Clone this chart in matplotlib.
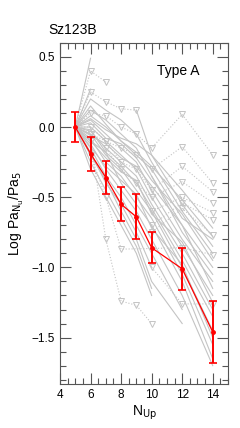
import numpy as np
import matplotlib.pyplot as plt
from matplotlib.ticker import MultipleLocator

plt.rcParams['font.family'] = ['Liberation Sans', 'DejaVu Sans']

# Upper levels
n_up = [5, 6, 7, 8, 9, 10, 12, 14]
nan = np.nan

# individual objects, detections (solid lines)
solid = [
    [0, 0.49, nan, 0.02, nan, -0.35, -0.75, -1.05],
    [0, 0.27, nan, nan, 0.12, -0.20, -0.55, -0.85],
    [0, 0.20, 0.12, 0.05, -0.05, -0.25, -0.60, -0.90],
    [0, 0.12, 0.05, -0.05, -0.15, -0.35, -0.70, -1.00],
    [0, 0.08, 0.00, -0.10, -0.20, -0.30, -0.65, -0.80],
    [0, 0.05, -0.05, -0.15, -0.25, -0.45, -0.80, -1.10],
    [0, 0.00, -0.10, -0.20, -0.30, -0.50, -0.85, -1.20],
    [0, -0.03, -0.15, -0.25, -0.35, -0.55, -0.90, -1.30],
    [0, -0.05, -0.20, -0.30, -0.45, -0.60, -1.00, -1.45],
    [0, -0.08, -0.25, -0.35, -0.50, -0.65, -1.05, -1.55],
    [0, -0.10, -0.18, -0.40, -0.55, -0.70, -1.10, -1.65],
    [0, -0.12, -0.30, -0.45, -0.60, -0.80, -1.20, -1.70],
    [0, -0.15, -0.35, -0.50, -0.70, -0.90, -1.30, nan],
    [0, -0.18, -0.40, -0.55, -0.75, -1.00, nan, nan],
    [0, -0.20, -0.38, -0.60, -0.80, -1.10, -1.40, nan],
    [0, -0.25, -0.45, -0.65, -0.85, -1.15, nan, nan],
    [0, -0.30, -0.50, -0.70, -0.90, -1.20, nan, nan],
    [0, 0.03, -0.08, -0.12, -0.22, -0.38, -0.62, -0.95],
    [0, -0.06, -0.12, -0.22, -0.28, -0.42, -0.70, -1.15],
    [0, 0.15, 0.02, -0.10, -0.18, -0.28, -0.52, -0.78],
    [0, -0.02, -0.18, -0.28, -0.40, -0.58, -0.95, -1.35],
    [0, 0.06, -0.02, -0.08, -0.12, -0.20, -0.45, -0.72],
    [0, -0.10, -0.22, -0.32, -0.38, -0.62, -0.82, -1.25],
    [0, -0.14, -0.28, -0.38, -0.48, -0.72, -0.98, -1.50],
]

# objects with upper limits (dotted lines, triangles)
limits = [
    [0, 0.40, 0.32, nan, nan, nan, nan, nan],
    [0, 0.25, 0.18, 0.13, 0.12, nan, nan, nan],
    [0, 0.10, 0.08, 0.00, -0.05, -0.15, 0.09, -0.20],
    [0, -0.05, -0.10, -0.15, -0.20, -0.30, -0.14, -0.40],
    [0, -0.10, -0.80, -1.24, -1.27, -1.40, nan, nan],
    [0, -0.20, -0.50, -0.87, nan, nan, -0.86, -0.91],
    [0, 0.00, -0.10, -0.25, -0.30, -0.45, -0.28, -0.46],
    [0, -0.05, -0.15, -0.30, -0.40, -0.50, -0.39, -0.54],
    [nan, nan, nan, nan, nan, -0.60, -0.50, -0.61],
    [nan, nan, nan, nan, nan, -0.70, -0.54, -0.66],
    [nan, nan, nan, nan, nan, -0.75, -0.58, -0.77],
    [nan, nan, nan, nan, nan, -1.00, -1.26, -1.26],
]

# mean and scatter
mean_val = [0.00, -0.19, -0.36, -0.55, -0.64, -0.86, -1.01, -1.46]
mean_err = [0.11, 0.12, 0.12, 0.12, 0.16, 0.11, 0.15, 0.22]

fig = plt.figure(figsize=(2.4, 4.28), dpi=100)
ax = fig.add_axes([0.25, 0.103, 0.70, 0.797])

gray = '#c4c4c4'
for s in solid:
    ax.plot(n_up, s, color=gray, lw=0.8)
for s in limits:
    s = np.array(s, dtype=float)
    ok = ~np.isnan(s)
    ax.plot(np.array(n_up)[ok], s[ok], color=gray, lw=0.8, ls=':')
    ax.plot(np.array(n_up)[1:][ok[1:]], s[1:][ok[1:]], ls='none', marker='v',
            ms=4, mfc='none', mec=gray, mew=0.7)

ax.errorbar(n_up, mean_val, yerr=mean_err, color='red', lw=0.9, elinewidth=1.4,
            capsize=3, capthick=1.2, marker='o', ms=2.5, zorder=5)

ax.set_xlim(4, 15)
ax.set_ylim(-1.83, 0.6)
ax.xaxis.set_major_locator(MultipleLocator(2))
ax.xaxis.set_minor_locator(MultipleLocator(0.5))
ax.yaxis.set_major_locator(MultipleLocator(0.5))
ax.yaxis.set_minor_locator(MultipleLocator(0.1))
ax.tick_params(which='both', direction='in', top=True, right=True,
               color='#555555', labelsize=8.5)
ax.tick_params(which='major', length=8, width=0.8)
ax.tick_params(which='minor', length=4, width=0.8)
for sp in ax.spines.values():
    sp.set_color('#555555')
    sp.set_linewidth(0.8)

ax.set_xlabel('N$_{\\rm Up}$', fontsize=10, labelpad=2)
ax.set_ylabel('Log Pa$_{\\rm N_u}$/Pa$_5$', fontsize=10, labelpad=4)
ax.text(0.577, 0.905, 'Type A', transform=ax.transAxes, fontsize=10,
        va='baseline')
fig.text(0.2, 0.921, 'Sz123B', fontsize=10, va='baseline')

fig.savefig('out.png', dpi=100)
